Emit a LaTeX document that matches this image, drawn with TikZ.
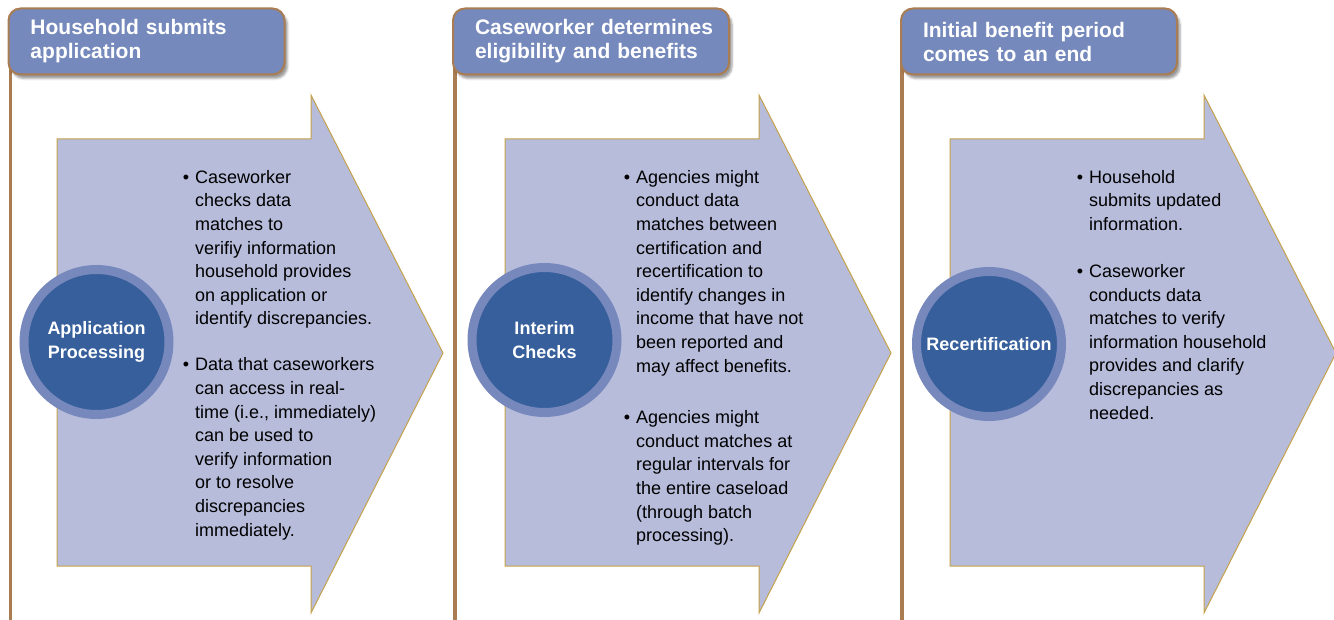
\documentclass[tikz,border=0pt]{standalone}
\usepackage{fontspec}
\setmainfont{Liberation Sans}
\usetikzlibrary{positioning,backgrounds,shadows.blur}

\definecolor{hdrblue}{HTML}{7689BC}
\definecolor{stembrown}{HTML}{A97C52}
\definecolor{arrowfill}{HTML}{B7BCDB}
\definecolor{arrowline}{HTML}{C5A24A}
\definecolor{ringblue}{HTML}{7788BC}
\definecolor{coreblue}{HTML}{365F9C}

\begin{document}
\begin{tikzpicture}[x=1pt,y=-1pt,
    hdr/.style={draw=stembrown,line width=2pt,fill=hdrblue,rounded corners=12pt,
      anchor=north west,minimum width=276pt,minimum height=66pt,
      text width=232pt,inner xsep=22pt,align=left,text=white,
      font=\fontsize{21}{24}\selectfont\bfseries,
      blur shadow={shadow xshift=3pt,shadow yshift=-4pt,shadow opacity=40}},
    stem/.style={draw=stembrown,line width=3.5pt},
    chevron/.style={fill=arrowfill,draw=arrowline,line width=1pt},
    disc/.style={circle,fill=coreblue,draw=ringblue,line width=9pt,
      minimum size=145pt,inner sep=0pt,align=center,text=white,
      font=\fontsize{18}{24}\selectfont\bfseries},
    txt/.style={anchor=north west,align=left,inner sep=0pt,
      font=\fontsize{18}{23.6}\selectfont}]

  \useasboundingbox (0,0) rectangle (1334,620);

  % stage headers
  \node[hdr] (hA) at (7.5,7.5) {Household submits\\application};
  \node[hdr] (hB) at (452,7.5) {\mbox{Caseworker determines}\\eligibility and benefits};
  \node[hdr] (hC) at (900,7.5) {Initial benefit period\\comes to an end};

  % stems under the headers
  \coordinate (bA) at (10.5,620);
  \coordinate (bB) at (455,620);
  \coordinate (bC) at (902,620);
  \begin{scope}[on background layer]
    \draw[stem] (hA.west -| bA) -- (bA);
    \draw[stem] (hB.west -| bB) -- (bB);
    \draw[stem] (hC.west -| bC) -- (bC);
  \end{scope}

  % big arrows
  \foreach \dx in {0,448,893}
    \draw[chevron] (57+\dx,139) -- (311+\dx,139) -- (311+\dx,95)
      -- (443+\dx,353) -- (311+\dx,613) -- (311+\dx,566)
      -- (57+\dx,566) -- cycle;

  % circles
  \node[disc] (cA) at (96.5,342) {Application\\Processing};
  \node[disc] (cB) at (544.5,340) {Interim\\Checks};
  \node[disc] (cC) at (989,344) {Recertification};

  % bullet texts
  \node[txt] (tA) at (195,170) {\llap{\textbullet\hspace{6pt}}Caseworker\\
    checks data\\matches to\\verifiy information\\household provides\\
    on application or\\identify discrepancies.\\[22.5pt]
    \llap{\textbullet\hspace{6pt}}Data that caseworkers\\can access in real-\\
    time (i.e., immediately)\\can be used to\\verify information\\
    or to resolve\\discrepancies\\immediately.};

  \node[txt] (tB) at (636,170) {\llap{\textbullet\hspace{6pt}}Agencies might\\
    conduct data\\matches between\\certification and\\recertification to\\
    identify changes in\\income that have not\\been reported and\\
    may affect benefits.\\[28pt]
    \llap{\textbullet\hspace{6pt}}Agencies might\\conduct matches at\\
    regular intervals for\\the entire caseload\\(through batch\\processing).};

  \node[txt] (tC) at (1089,170) {\llap{\textbullet\hspace{6pt}}Household\\
    submits updated\\information.\\[23.5pt]
    \llap{\textbullet\hspace{6pt}}Caseworker\\conducts data\\matches to verify\\
    information household\\provides and clarify\\discrepancies as\\needed.};

\end{tikzpicture}
\end{document}
